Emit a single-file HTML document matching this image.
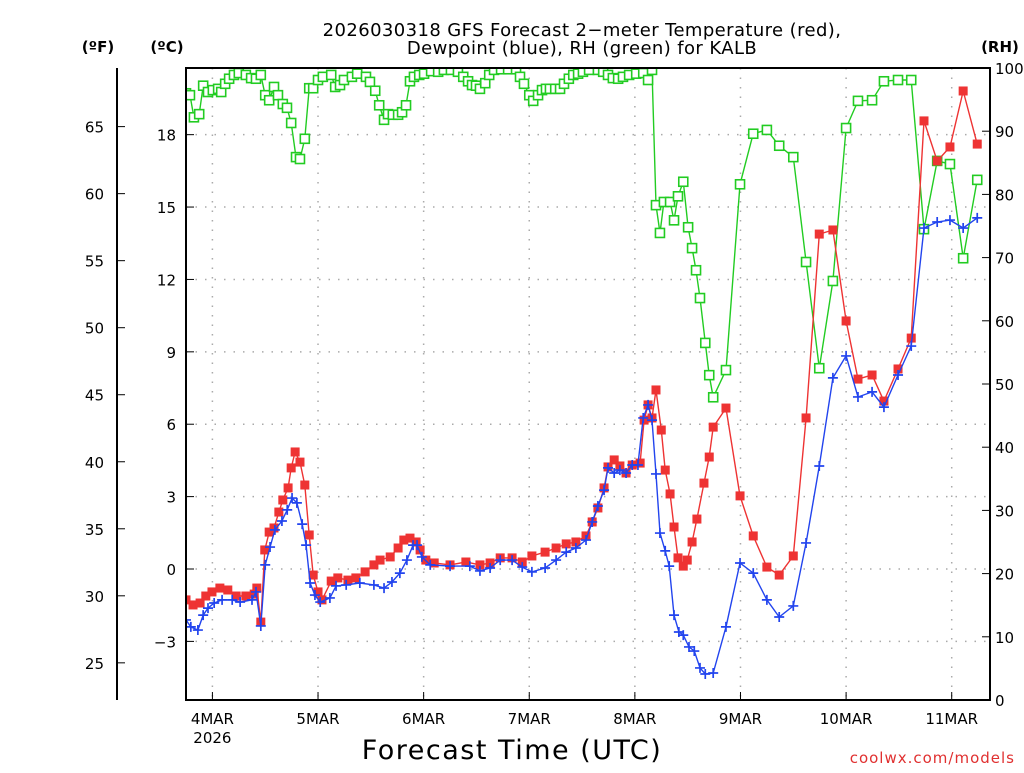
<!DOCTYPE html>
<html><head><meta charset="utf-8"><style>
html,body{margin:0;padding:0;background:#fff;}
svg text{font-family:"DejaVu Sans","Liberation Sans",sans-serif;}
</style></head><body>
<svg id="chart" width="1024" height="768" xmlns="http://www.w3.org/2000/svg">
<rect width="1024" height="768" fill="#fff"/>
<text x="582" y="36" font-size="18" text-anchor="middle" letter-spacing="0.4">2026030318 GFS Forecast 2−meter Temperature (red),</text>
<text x="582" y="54" font-size="18" text-anchor="middle" letter-spacing="0.4">Dewpoint (blue), RH (green) for KALB</text>
<text x="98" y="52" font-size="15" font-weight="bold" text-anchor="middle">(ºF)</text>
<text x="167" y="52" font-size="15" font-weight="bold" text-anchor="middle">(ºC)</text>
<text x="1000" y="52" font-size="15" font-weight="bold" text-anchor="middle">(RH)</text>
<text x="512" y="759" font-size="27" text-anchor="middle" letter-spacing="1.5">Forecast Time (UTC)</text>
<text x="1015" y="763" font-size="15" fill="#e03030" text-anchor="end" letter-spacing="1">coolwx.com/models</text>
<g id="grid"></g><g id="axes"></g><g id="series"></g>
<rect x="186" y="68" width="804" height="632" fill="none" stroke="#000" stroke-width="2"/>
</svg>
<script>
const hoursT=[0,1.6,3.2,4.5,5.9,7.7,9.5,11.4,13.6,15.5,16.1,17.0,17.9,18.9,20.0,21.1,22.0,23.2,23.9,24.8,25.9,27.0,28.0,28.9,30.0,30.9,33.0,34.5,36.8,38.6,40.7,42.7,44.1,46.4,48.2,49.5,50.9,52.3,53.2,54.5,56.4,60.0,63.6,66.8,69.1,71.4,74.1,76.4,78.6,81.6,84.1,86.4,88.6,90.9,92.3,93.6,95.0,95.9,97.3,98.6,100.0,101.4,103.2,104.1,105.0,105.9,106.8,108.0,108.9,110.0,110.9,111.8,113.0,113.9,115.0,116.1,117.7,118.9,119.8,122.7,125.9,128.9,132.0,134.8,138.0,140.9,143.9,147.0,150.0,152.7,155.9,158.6,161.8,164.8,167.7,170.7,173.6,176.6,179.8];
const tempC=[-1.28,-1.49,-1.41,-1.12,-0.95,-0.79,-0.87,-1.12,-1.12,-1.04,-0.79,-2.2,0.79,1.53,1.70,2.36,2.86,3.36,4.19,4.85,4.43,3.48,1.41,-0.25,-0.95,-1.28,-0.50,-0.37,-0.46,-0.37,-0.12,0.17,0.37,0.50,0.87,1.20,1.28,1.12,0.79,0.37,0.25,0.17,0.29,0.17,0.25,0.46,0.46,0.29,0.54,0.70,0.87,1.04,1.12,1.37,1.95,2.53,3.36,4.23,4.52,4.27,3.98,4.31,4.39,6.17,6.80,6.26,7.42,5.76,4.10,3.11,1.74,0.46,0.12,0.37,1.12,2.07,3.56,4.64,5.88,6.67,3.03,1.37,0.08,-0.25,0.54,6.26,13.88,14.05,10.28,7.87,8.04,6.96,8.29,9.57,18.57,16.91,17.49,19.81,17.61];
const hoursD=[0,1.1,2.7,3.9,5.0,6.4,8.2,10.5,12.3,15.0,15.9,17.0,18.0,19.1,20.2,21.8,23.0,24.1,25.2,26.4,27.3,28.2,29.3,30.5,32.7,34.1,36.4,39.5,42.7,45.0,46.8,48.6,50.2,51.6,52.5,53.6,55.5,60.0,64.5,66.8,69.1,71.4,74.1,76.4,78.6,81.6,84.1,86.4,88.6,90.9,92.3,93.6,95.0,95.9,97.3,98.6,100.0,101.4,102.7,103.9,105.0,105.9,106.8,107.7,108.9,109.8,110.9,112.0,113.0,114.3,115.5,116.8,118.0,119.8,122.7,125.9,128.9,132.0,134.8,138.0,140.9,143.9,147.0,150.0,152.7,155.9,158.6,161.8,164.8,167.7,170.7,173.6,176.6,179.8];
const dewC=[-2.11,-2.40,-2.53,-1.91,-1.62,-1.41,-1.28,-1.28,-1.37,-1.28,-0.95,-2.36,0.17,0.91,1.62,1.99,2.45,2.94,2.74,1.86,0.99,-0.58,-1.08,-1.37,-1.20,-0.70,-0.66,-0.58,-0.66,-0.79,-0.54,-0.17,0.37,0.99,0.99,0.50,0.17,0.12,0.12,-0.08,0.04,0.37,0.37,0.08,-0.12,0.04,0.37,0.70,0.87,1.20,1.95,2.61,3.27,4.19,3.98,4.10,3.98,4.31,4.31,6.26,6.80,6.17,3.94,1.49,0.75,0.12,-1.91,-2.61,-2.74,-3.23,-3.40,-4.10,-4.35,-4.31,-2.40,0.25,-0.17,-1.28,-1.99,-1.53,1.08,4.27,7.92,8.83,7.13,7.34,6.71,8.04,9.24,14.13,14.38,14.46,14.13,14.55];
const hoursR=[0,0.9,1.8,3.0,3.9,5.0,6.1,7.3,8.0,8.9,9.8,10.9,12.0,13.6,14.8,15.9,17.0,18.0,18.9,20.0,20.9,22.0,22.95,23.9,25.0,25.9,27.0,28.0,28.9,30.0,31.1,33.0,33.9,35.0,35.9,37.7,38.9,40.9,41.8,43.0,43.9,45.0,45.9,47.0,48.2,49.1,50.0,50.9,51.8,53.0,54.1,55.7,57.3,58.6,60.2,61.8,63.0,64.1,65.0,65.9,66.8,68.0,68.9,70.0,71.6,73.2,75.0,75.9,76.8,78.0,78.9,80.0,80.9,81.8,82.7,83.9,85.0,85.9,87.0,88.0,89.1,90.2,91.6,93.6,94.8,95.9,97.0,98.2,99.3,100.7,102.3,103.9,105.0,105.9,106.8,107.7,108.6,110.0,110.9,111.8,113.0,114.1,115.0,115.9,116.8,118.0,118.9,119.8,122.7,125.9,128.9,132.0,134.8,138.0,140.9,143.9,147.0,150.0,152.7,155.9,158.6,161.8,164.8,167.7,170.7,173.6,176.6,179.8];
const rh=[96,95.7,92.2,92.7,97.2,96.2,96.5,96.7,96.2,97.5,98.3,98.9,99.2,98.9,98.4,98.3,98.9,95.7,94.9,97.0,95.7,94.3,93.7,91.3,85.9,85.6,88.8,96.8,96.8,98.1,98.6,98.9,97.0,97.3,98.1,98.6,99.1,98.6,97.8,96.4,94.1,91.8,92.7,92.6,92.6,93.0,94.1,97.9,98.6,98.9,99.1,99.5,99.4,99.7,99.7,99.4,98.6,97.9,97.3,97.2,96.7,97.6,98.9,99.7,99.8,99.8,99.8,98.6,97.5,95.7,94.8,95.7,96.5,96.7,96.7,96.7,96.7,97.5,98.3,98.9,99.1,99.4,99.7,99.7,99.4,98.9,98.4,98.3,98.6,98.9,99.1,99.2,98.1,99.7,78.3,73.9,78.8,78.8,75.9,79.7,82.0,74.8,71.5,68.0,63.6,56.5,51.4,47.9,52.2,81.6,89.6,90.2,87.7,85.9,69.3,52.5,66.3,90.5,94.8,94.9,97.9,98.1,98.1,74.5,85.3,84.8,69.9,82.3];
const dayLabels=["4MAR","5MAR","6MAR","7MAR","8MAR","9MAR","10MAR","11MAR"];
const dayHours=[6,30,54,78,102,126,150,174];
const cTicks=[-3,0,3,6,9,12,15,18];
const fTicks=[25,30,35,40,45,50,55,60,65];
const rhTicks=[0,10,20,30,40,50,60,70,80,90,100];

const NS="http://www.w3.org/2000/svg";
const X0=186,X1=990,Y0=68,Y1=700;
const xS=h=>X0+(h/182.7)*(X1-X0);
const yC=c=>569-c*24.13;
const yF=f=>yC((f-32)*5/9);
const yR=r=>Y1-r*(Y1-Y0)/100;
function mk(tag,attrs,parent){const e=document.createElementNS(NS,tag);for(const k in attrs)e.setAttribute(k,attrs[k]);parent.appendChild(e);return e;}
const grid=document.getElementById('grid'),axes=document.getElementById('axes'),ser=document.getElementById('series');
const gd={stroke:"#aaa","stroke-width":1.5,"stroke-dasharray":"1.5,8"};
dayHours.forEach((h,i)=>{
  const l=mk('line',Object.assign({x1:xS(h),x2:xS(h),y1:Y0,y2:Y1},gd),grid);
  
  
  const t=mk('text',{x:xS(h),y:724,"font-size":15,"text-anchor":"middle"},axes);
  t.textContent=dayLabels[i];
  
  
  mk('line',{x1:xS(h),x2:xS(h),y1:Y1,y2:Y1-8,stroke:"#000","stroke-width":1},axes);
});
const yr=mk('text',{x:xS(6),y:743,"font-size":15,"text-anchor":"middle"},axes);yr.textContent="2026";


cTicks.forEach(c=>{
  const l=mk('line',Object.assign({x1:X0,x2:X1,y1:yC(c),y2:yC(c)},gd),grid);
  
  
  mk('line',{x1:X0,x2:X0+8,y1:yC(c),y2:yC(c),stroke:"#000"},axes);
  const t=mk('text',{x:176,y:yC(c)+6,"font-size":15,"text-anchor":"end"},axes);
  t.textContent=c<0?"−"+(-c):String(c);
  
  
});
mk('line',{x1:117,x2:117,y1:Y0,y2:Y1,stroke:"#000","stroke-width":2},axes);
fTicks.forEach(f=>{
  mk('line',{x1:117,x2:125,y1:yF(f),y2:yF(f),stroke:"#000"},axes);
  const t=mk('text',{x:104,y:yF(f)+6,"font-size":15,"text-anchor":"end"},axes);
  t.textContent=f;
  
  
});
rhTicks.forEach(r=>{
  mk('line',{x1:X1,x2:X1-8,y1:yR(r),y2:yR(r),stroke:"#000"},axes);
  const t=mk('text',{x:995,y:yR(r)+6,"font-size":15},axes);
  t.textContent=r;
  
  
});
const cp=mk('clipPath',{id:'pc'},ser);
mk('rect',{x:X0,y:Y0,width:X1-X0,height:Y1-Y0},cp);
function series(hs,vs,yfn,color,kind,name){
  const g=mk('g',{"clip-path":"url(#pc)"},ser);
  
  
  const pts=hs.map((h,i)=>xS(h).toFixed(1)+","+yfn(vs[i]).toFixed(1)).join(" ");
  mk('polyline',{points:pts,fill:"none",stroke:color,"stroke-width":1.4},g);
  hs.forEach((h,i)=>{
    const x=xS(h),y=yfn(vs[i]);let m;
    if(kind==='fill')m=mk('rect',{x:x-4.5,y:y-4.5,width:9,height:9,fill:color},g);
    else if(kind==='open')m=mk('rect',{x:x-4.5,y:y-4.5,width:9,height:9,fill:"#fff",stroke:color,"stroke-width":1.6},g);
    else m=mk('path',{d:`M${x-5},${y}H${x+5}M${x},${y-5}V${y+5}`,stroke:color,"stroke-width":1.7},g);
    
    
  });
}
series(hoursR,rh,yR,"#22cc22",'open','rh-series');
series(hoursT,tempC,yC,"#ee3333",'fill','temperature-series');
series(hoursD,dewC,yC,"#2244ee",'cross','dewpoint-series');
</script>
</body></html>
